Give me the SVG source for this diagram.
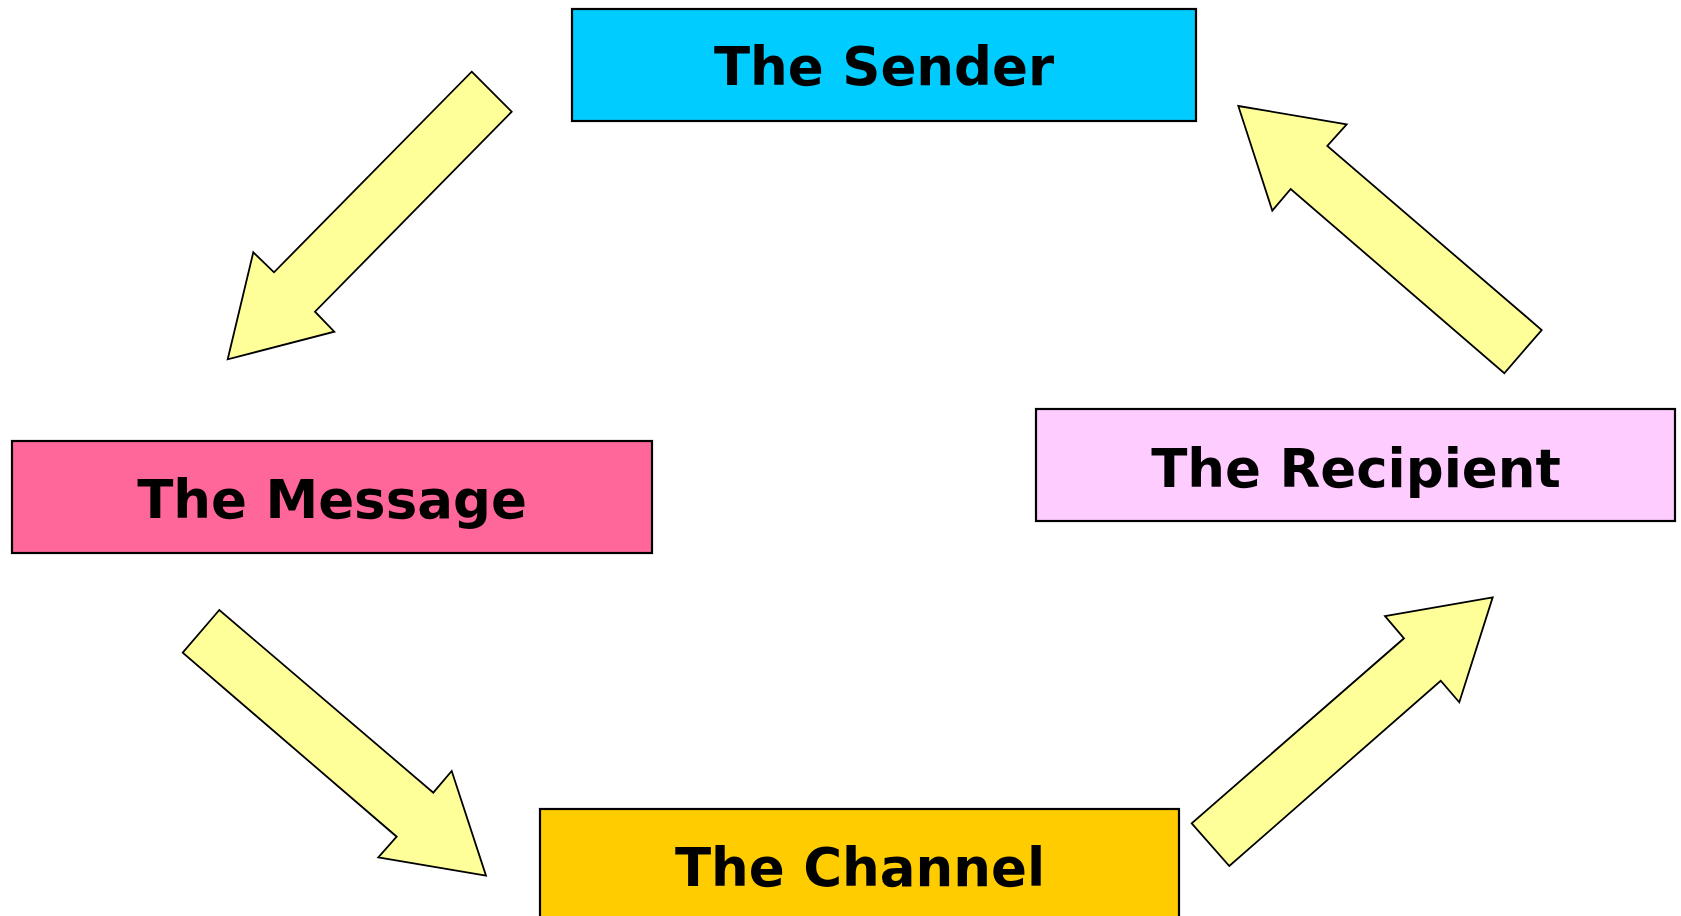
<svg xmlns="http://www.w3.org/2000/svg" width="1681" height="916" viewBox="0 0 1681 916">
<style>
.box{stroke:#000;stroke-width:2.2}
.lbl{font-family:"DejaVu Sans","Verdana",sans-serif;font-weight:bold;font-size:53px;fill:#000;text-anchor:middle}
.arr{fill:#FFFF99;stroke:#000;stroke-width:1.8;stroke-linejoin:miter}
</style>
<rect width="1681" height="916" fill="#fff"/>
<g id="connectors">
<polygon class="arr" points="471.7,71.7 511.7,111.7 315,311.7 334.3,331.7 227.7,359.3 253.3,252.3 274,272.3"/>
<polygon class="arr" points="1238.3,106 1346.7,124.3 1327.3,146 1541.7,330 1504.3,373.3 1290.7,189 1272.3,210.7"/>
<polygon class="arr" points="219.3,610 182.7,652.7 396.7,836.7 378.3,857.3 486,875.7 451.7,771 433.3,792.7"/>
<polygon class="arr" points="1191.7,823.3 1229.3,866 1440.7,680.7 1459.3,702.3 1492.7,597.3 1385,616 1404,638.3"/>
</g>
<g id="sender">
<rect class="box" x="572" y="9" width="624" height="112" fill="#00CCFF"/>
<text class="lbl" x="884" y="85">The Sender</text>
</g>
<g id="message">
<rect class="box" x="12" y="441" width="640" height="112" fill="#FF6699"/>
<text class="lbl" x="332" y="518">The Message</text>
</g>
<g id="recipient">
<rect class="box" x="1036" y="409" width="639" height="112" fill="#FFCCFF"/>
<text class="lbl" x="1356" y="487">The Recipient</text>
</g>
<g id="channel">
<rect class="box" x="540" y="809" width="639" height="112" fill="#FFCC00"/>
<text class="lbl" x="860" y="886">The Channel</text>
</g>
</svg>
